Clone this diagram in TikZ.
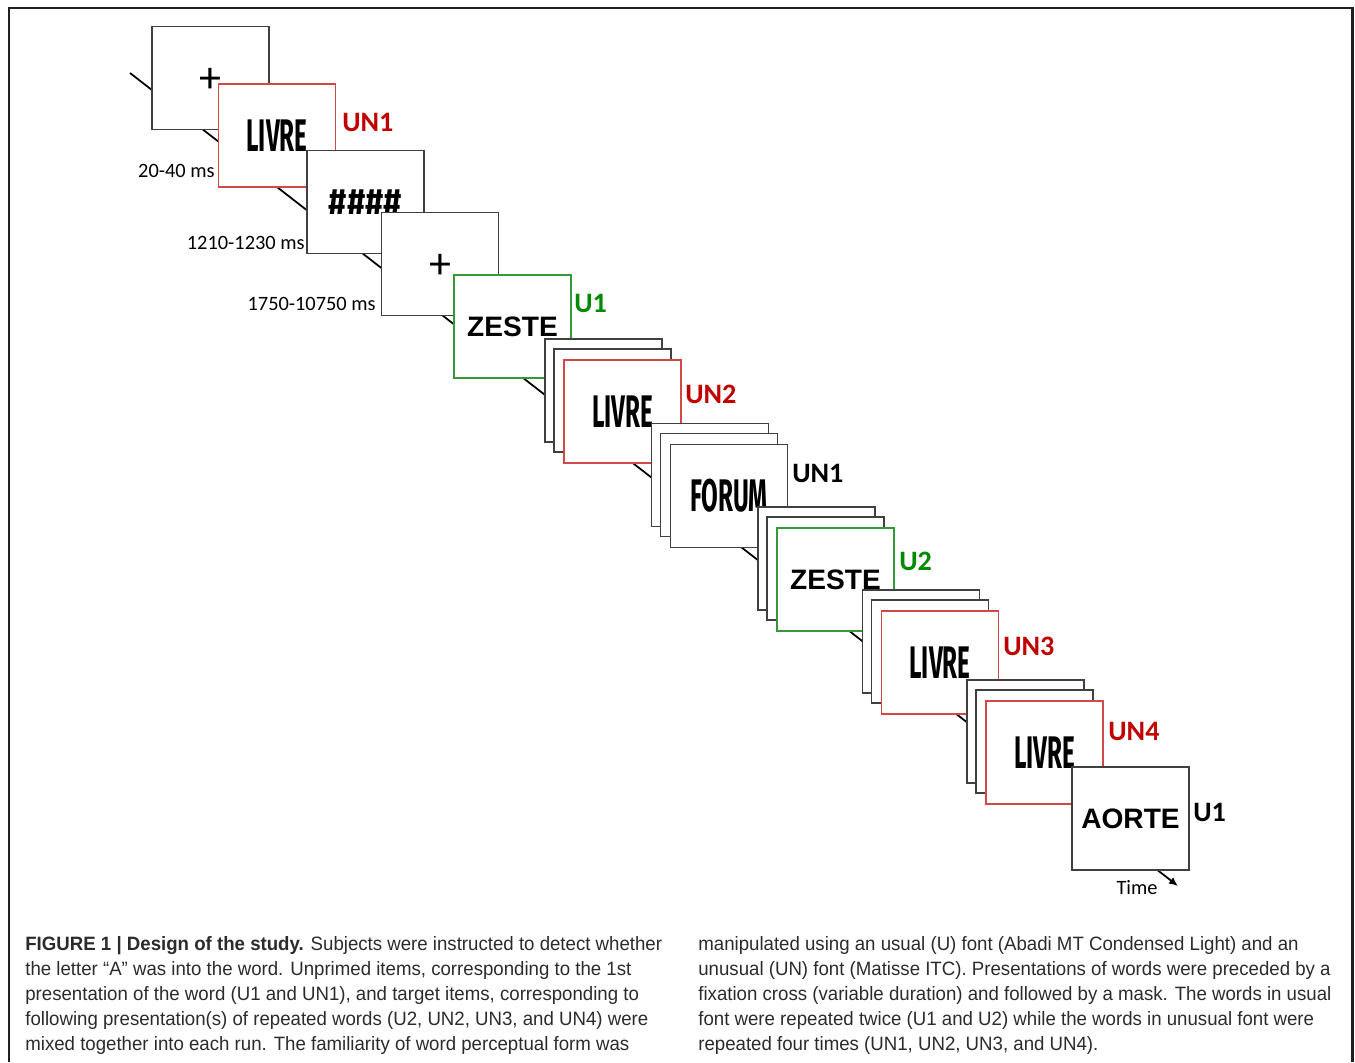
\documentclass[tikz,border=0pt]{standalone}
\usepackage{fontspec}
\usepackage{graphicx}
\usetikzlibrary{arrows.meta,positioning}
\setmainfont{Carlito}
\newfontfamily\wordfont{Liberation Sans}
\newfontfamily\oddfont{Fira Sans}
\newfontfamily\capfont{Liberation Sans}[FakeStretch=0.965]
\definecolor{CardGrey}{HTML}{404040}
\definecolor{UNRed}{HTML}{C00000}
\definecolor{UNFrame}{HTML}{D04848}
\definecolor{UGreen}{HTML}{008A00}
\definecolor{UFrame}{HTML}{33993A}
\definecolor{CapInk}{HTML}{2B2B2B}
\definecolor{FrameInk}{HTML}{231F20}
\newcommand{\oddword}[1]{\scalebox{0.53}[1]{\oddfont\bfseries #1}}
% the cross and the mask left behind by an earlier trial
\newcommand{\backcards}[3]{%
  \node[card] (#1a) at (#2-19,#3-21) {};
  \node[card] (#1b) at (#2-10,#3-11) {};}

\begin{document}
\begin{tikzpicture}[
  x=0.02cm,y=-0.02cm,
  card/.style={draw=CardGrey,fill=white,line width=0.8pt,minimum width=2.34cm,minimum height=2.06cm,inner sep=0pt},
  ucard/.style={card,draw=UFrame},
  uncard/.style={card,draw=UNFrame},
  usual/.style={font=\wordfont\bfseries\fontsize{16}{16}\selectfont},
  unusual/.style={font=\fontsize{26}{26}\selectfont},
  cross/.style={font=\fontsize{25}{25}\selectfont,text height=17pt,text depth=0pt},
  tag/.style={anchor=west,inner sep=0pt,font=\bfseries\fontsize{16}{16}\selectfont},
  dur/.style={anchor=base east,inner sep=0pt,font=\fontsize{11.6}{12}\selectfont},
  timeline/.style={-{Latex[length=1.8mm,width=1.6mm]},line width=1pt},
  caption/.style={anchor=north west,inner sep=0pt,align=left,text=CapInk,font=\capfont\fontsize{11}{14.2}\selectfont},
]
\useasboundingbox (0,0) rectangle (1355,1062);
\draw[line width=1.7pt,FrameInk] (9,1062) -- (9,8) -- (1352,8) -- (1352,1062);

% time axis behind the screens
\coordinate (t0) at (130,73);
\coordinate (t1) at (1178,886);
\draw[timeline] (t0) -- (t1);

% first trial
\node[card,cross] (fix1) at (210.5,78) {+};
\node[uncard,unusual] (un1) at (277,135.5) {\oddword{LIVRE}};
\node[card,unusual] (mask) at (365.5,202) {\scalebox{0.72}[0.8]{\oddfont\bfseries\#\#\#\#}};
\node[card,cross] (fix2) at (440,264) {+};
\node[ucard,usual] (u1) at (512.5,326.5) {ZESTE};

% following trials
\backcards{s2}{622.5}{411.5}
\node[uncard,unusual] (un2) at (622.5,411.5) {\oddword{LIVRE}};
\backcards{s3}{729}{496}
\node[card,unusual] (forum) at (729,496) {\oddword{FORUM}};
\backcards{s4}{835.5}{579.5}
\node[ucard,usual] (u2) at (835.5,579.5) {ZESTE};
\backcards{s5}{940}{662.5}
\node[uncard,unusual] (un3) at (940,662.5) {\oddword{LIVRE}};
\backcards{s6}{1044.5}{752.5}
\node[uncard,unusual] (un4) at (1044.5,752.5) {\oddword{LIVRE}};
\node[card,usual] (aorte) at (1130.5,818.5) {AORTE};

% condition tags
\node[tag,UNRed] (tun1) at (342,122) {UN1};
\node[tag,UGreen] (tu1) at (574,303) {U1};
\node[tag,UNRed] (tun2) at (685,394) {UN2};
\node[tag] (tforum) at (792,473) {UN1};
\node[tag,UGreen] (tu2) at (899,561) {U2};
\node[tag,UNRed] (tun3) at (1003,646) {UN3};
\node[tag,UNRed] (tun4) at (1108,731) {UN4};
\node[tag] (taorte) at (1193,812) {U1};

% durations
\node[dur] (d1) at (215,177.5) {20-40 ms};
\node[dur] (d2) at (305,249) {1210-1230 ms};
\node[dur] (d3) at (376,310) {1750-10750 ms};
\node[inner sep=0pt,font=\fontsize{11.6}{12}\selectfont] (time) at (1137,888) {Time};

% caption
\node[caption] (capl) at (25,936) {{\bfseries FIGURE 1 | Design of the study.} Subjects were instructed to detect whether\\
the letter “A” was into the word. Unprimed items, corresponding to the 1st\\
presentation of the word (U1 and UN1), and target items, corresponding to\\
following presentation(s) of repeated words (U2, UN2, UN3, and UN4) were\\
mixed together into each run. The familiarity of word perceptual form was};
\node[caption] (capr) at (698,936) {manipulated using an usual (U) font (Abadi MT Condensed Light) and an\\
unusual (UN) font (Matisse ITC). Presentations of words were preceded by a\\
fixation cross (variable duration) and followed by a mask. The words in usual\\
font were repeated twice (U1 and U2) while the words in unusual font were\\
repeated four times (UN1, UN2, UN3, and UN4).};
\end{tikzpicture}
\end{document}
